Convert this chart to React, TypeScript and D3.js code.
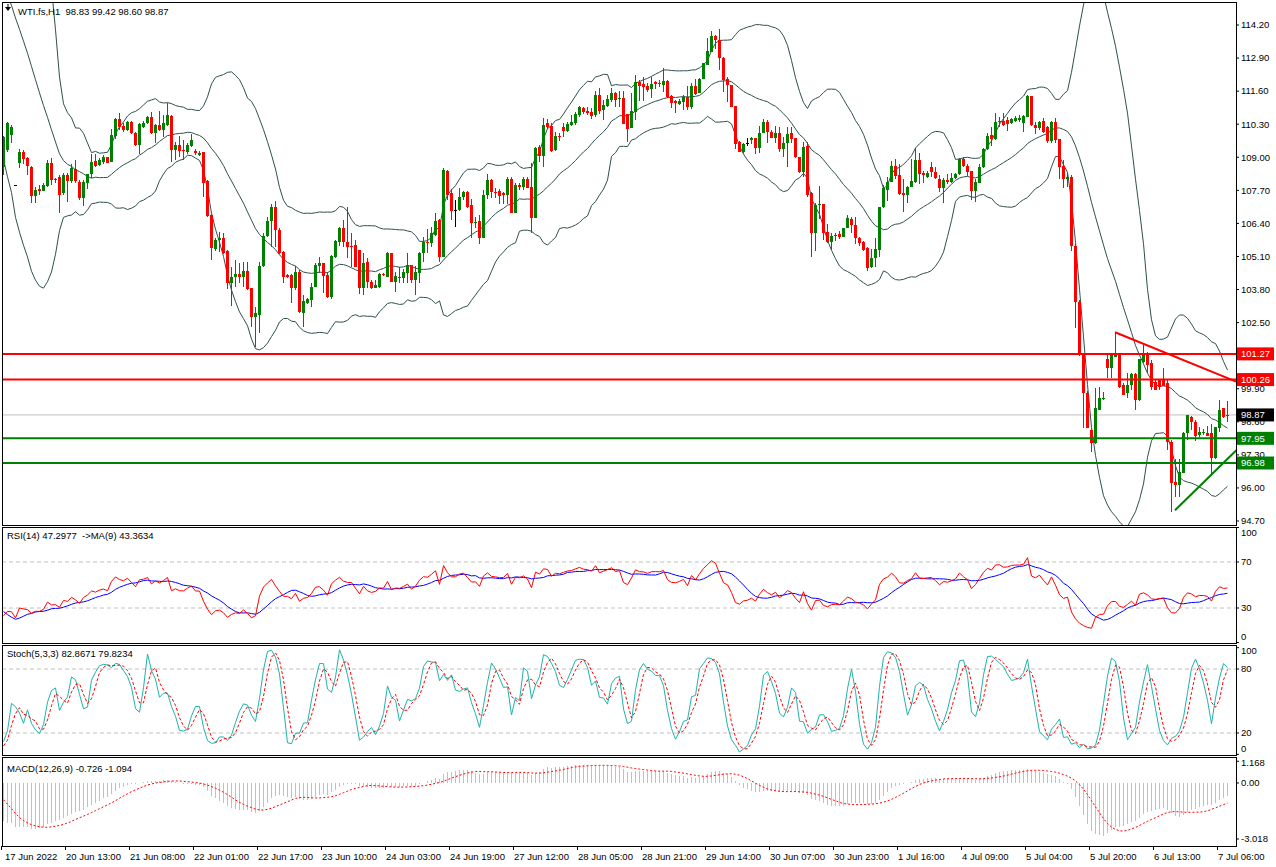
import React from "react";
import * as d3 from "d3";

type C = [number, number, number, number]; // open, high, low, close

// bars before the visible window (used only to warm up the indicators)
const PRE_CANDLES: C[] = [
  [117.5, 117.9, 117.3, 117.8], [117.8, 118.2, 117.6, 118.1], [118.1, 118.3, 117.7, 117.9],
  [117.9, 118.5, 117.8, 118.3], [118.3, 118.4, 117.8, 118.0], [118.0, 118.1, 117.5, 117.7],
  [117.7, 118.1, 117.6, 117.9], [117.9, 118.4, 117.8, 118.2], [118.2, 118.6, 118.1, 118.4],
  [118.4, 118.5, 117.9, 118.1], [118.1, 118.2, 117.6, 117.8], [117.8, 118.2, 117.7, 118.0],
  [118.0, 118.4, 117.9, 118.3], [118.3, 118.4, 117.9, 118.1], [118.1, 118.2, 117.7, 117.9],
  [117.9, 118.4, 117.8, 118.2], [118.2, 118.3, 117.8, 118.0], [118.0, 118.1, 117.6, 117.8],
  [117.8, 118.3, 117.7, 118.1], [118.1, 118.2, 117.7, 117.9], [117.9, 118.0, 117.4, 117.7],
  [117.7, 117.8, 116.5, 116.8], [116.8, 117.0, 113.4, 113.6], [113.6, 113.9, 110.8, 111.0],
  [111.0, 111.3, 109.9, 110.2], [110.2, 111.1, 110.0, 110.8], [110.8, 110.9, 108.6, 108.8],
];

// visible hourly bars, WTI.fs H1
const CANDLES: C[] = [
  [108.63,109.85,108.30,109.81],[109.28,110.40,109.20,110.33],[109.87,110.27,109.57,110.20],[107.91,107.91,107.91,107.91],
  [108.76,109.31,108.56,109.22],[109.22,109.28,108.73,108.92],[108.97,109.02,108.30,108.65],[108.63,108.65,107.21,107.47],
  [107.47,107.84,107.21,107.71],[107.74,107.91,107.51,107.68],[107.68,108.00,107.67,107.91],[107.87,108.89,107.82,108.76],
  [108.76,108.97,107.91,108.10],[108.14,108.20,108.00,108.12],[108.23,108.30,106.79,107.51],[107.58,108.37,107.51,108.30],
  [108.30,108.37,107.25,108.08],[108.08,108.73,107.97,108.56],[108.52,108.89,107.97,108.08],[108.04,108.10,107.32,107.38],
  [107.38,108.10,107.10,108.04],[108.00,108.34,107.74,108.34],[108.34,109.13,108.17,108.82],[108.86,109.13,108.60,108.65],
  [108.68,108.97,108.65,108.89],[108.82,109.09,108.73,109.00],[109.00,109.02,108.76,108.79],[108.82,110.13,108.82,109.87],
  [109.83,110.53,109.70,110.49],[110.49,110.75,110.07,110.20],[110.23,110.33,110.00,110.07],[110.07,110.42,110.03,110.38],
  [110.38,110.42,109.91,109.94],[109.96,110.00,109.44,109.48],[109.48,110.33,109.13,110.29],[110.20,110.42,110.16,110.36],
  [110.33,110.62,110.31,110.57],[110.57,110.79,109.91,109.94],[109.94,110.29,109.57,110.27],[110.27,110.83,110.04,110.07],
  [110.07,110.66,109.81,110.33],[110.27,111.14,110.24,110.66],[110.62,110.66,108.82,109.28],[109.28,109.61,108.89,109.48],
  [109.48,109.83,109.00,109.26],[109.28,109.68,108.89,109.24],[109.22,109.57,109.13,109.48],[109.44,109.91,109.39,109.68],
  [109.26,109.31,109.09,109.18],[109.09,109.26,109.05,109.18],[109.22,109.22,107.45,108.00],[108.08,108.10,106.66,106.69],
  [106.73,106.76,104.96,105.42],[105.39,105.81,105.33,105.75],[105.75,106.07,105.29,105.81],[105.81,106.01,105.20,105.22],
  [105.33,105.36,103.81,104.04],[104.04,104.70,103.15,104.28],[104.28,104.96,103.91,104.41],[104.41,104.83,104.07,104.28],
  [104.28,104.90,103.91,104.54],[104.54,104.90,103.78,103.81],[103.85,103.87,102.34,102.73],[102.73,103.12,101.55,102.89],
  [102.80,104.90,102.08,104.72],[104.72,106.01,104.70,105.90],[105.90,106.66,105.87,106.50],[106.50,107.16,105.48,107.06],
  [107.06,107.29,105.48,106.14],[106.14,106.20,105.20,105.22],[105.29,105.33,104.07,104.30],[104.36,104.40,104.25,104.30],
  [104.36,104.43,103.28,103.85],[103.85,104.72,103.78,104.50],[104.50,104.57,102.86,102.93],[102.89,103.59,102.34,103.33],
  [103.29,103.45,103.25,103.42],[103.39,104.05,103.10,103.91],[103.91,104.83,103.91,104.77],[104.73,105.09,104.44,104.83],
  [104.83,104.85,103.68,104.33],[104.37,104.50,103.48,103.50],[103.52,105.16,103.44,105.12],[105.07,105.75,105.05,105.72],
  [105.68,106.27,105.51,106.21],[106.21,106.54,105.49,105.68],[105.68,107.03,105.03,105.49],[105.51,106.01,104.67,105.49],
  [105.54,105.75,104.67,104.70],[105.35,105.35,103.63,103.85],[103.85,105.22,103.59,104.83],[104.88,105.05,103.85,104.11],
  [104.11,104.18,103.81,103.85],[103.85,104.18,103.85,103.98],[103.91,104.44,103.85,104.41],[104.41,104.45,104.33,104.37],
  [104.31,105.29,104.31,105.22],[105.22,105.22,104.10,104.11],[104.11,104.50,103.72,104.33],[104.31,104.70,104.05,104.28],
  [104.24,104.60,104.05,104.50],[104.44,105.22,104.05,104.77],[104.77,104.77,104.05,104.18],[104.18,104.73,103.59,104.50],
  [104.46,105.29,104.05,105.22],[105.22,105.88,104.90,105.68],[105.68,106.17,105.22,105.62],[105.62,106.27,105.49,106.01],
  [105.95,106.80,105.91,106.50],[106.54,106.56,104.90,105.09],[105.09,108.57,105.09,108.50],[108.46,108.50,107.32,107.52],
  [107.58,107.74,106.54,106.89],[106.93,107.32,106.27,106.93],[106.93,107.78,106.89,107.45],[107.43,107.69,107.32,107.62],
  [107.65,107.69,106.99,107.06],[107.12,107.35,105.81,106.43],[106.43,106.64,106.21,106.47],[106.50,106.73,105.59,105.84],
  [105.81,107.71,105.81,107.52],[107.52,108.33,107.35,108.11],[108.11,108.14,107.39,107.65],[107.65,107.78,107.39,107.58],
  [107.67,107.74,107.16,107.49],[107.61,107.65,107.16,107.52],[107.52,108.24,107.16,108.14],[108.14,108.24,106.80,106.82],
  [106.82,107.98,106.82,107.91],[107.91,107.98,107.71,107.85],[107.85,108.24,107.71,108.14],[108.14,108.24,107.78,107.78],
  [107.82,108.76,106.01,106.63],[106.63,109.42,106.63,109.35],[109.39,109.48,108.83,109.06],[109.06,110.53,108.63,110.27],
  [110.34,110.51,110.10,110.18],[110.23,110.34,109.22,109.25],[109.29,110.01,109.25,109.84],[109.84,109.97,109.65,109.78],
  [110.20,110.34,109.78,110.05],[110.05,110.40,110.01,110.31],[110.27,110.66,110.23,110.40],[110.34,110.79,110.27,110.70],
  [110.66,111.02,110.60,110.96],[110.92,110.99,110.70,110.79],[110.81,110.96,110.66,110.75],[110.79,110.92,110.49,110.62],
  [110.66,111.61,110.60,111.45],[111.45,111.71,110.70,110.83],[110.86,111.25,110.47,111.06],[111.02,111.45,110.96,111.28],
  [111.25,111.71,111.19,111.54],[111.54,111.58,110.96,111.25],[111.33,111.61,110.99,111.34],[111.32,111.61,110.31,110.31],
  [110.70,110.70,109.61,110.10],[110.14,111.54,110.14,110.83],[110.79,112.24,110.47,111.97],[111.97,112.04,111.23,111.80],
  [111.87,112.14,111.23,111.78],[111.80,111.91,111.58,111.65],[111.67,112.17,111.32,111.87],[111.97,112.01,111.67,111.88],
  [111.93,112.04,111.78,111.87],[111.84,112.50,111.58,112.00],[112.00,112.04,111.32,111.36],[111.41,111.45,110.92,111.15],
  [111.23,111.25,110.75,111.12],[111.10,111.28,111.06,111.23],[111.19,111.45,110.86,111.38],[111.38,111.80,110.86,110.96],
  [110.99,111.91,110.91,111.80],[111.80,112.07,111.45,111.49],[111.54,112.10,111.54,112.07],[112.07,112.72,112.07,112.69],
  [112.63,113.68,112.63,113.18],[113.15,113.97,113.15,113.77],[113.77,113.81,113.24,113.61],[113.61,114.03,112.43,112.89],
  [112.89,112.93,111.58,112.04],[112.07,112.14,111.19,111.84],[111.84,111.84,110.96,110.99],[111.02,111.02,109.31,109.52],
  [109.61,109.65,109.22,109.22],[109.22,109.55,109.16,109.52],[109.58,109.75,109.44,109.58],[109.68,109.78,109.52,109.75],
  [109.75,109.75,109.12,109.35],[109.38,110.23,109.16,109.94],[109.94,110.49,109.94,110.40],[110.40,110.47,109.58,110.01],
  [110.01,110.07,109.75,109.75],[109.75,110.23,109.55,109.97],[109.97,110.20,109.22,109.31],[109.31,109.81,109.03,109.55],
  [109.55,110.18,108.63,109.92],[109.94,110.18,109.58,109.71],[109.75,109.75,108.96,109.03],[109.00,109.03,108.37,108.44],
  [108.44,109.61,108.24,109.39],[109.44,109.61,107.45,107.52],[107.58,107.65,105.09,106.04],[106.04,107.22,105.33,107.12],
  [107.12,107.87,106.56,107.16],[107.16,107.16,105.75,106.04],[106.08,106.38,105.64,105.68],[105.68,106.01,105.36,105.91],
  [105.91,106.01,105.72,105.95],[105.98,106.12,105.77,105.85],[105.88,106.21,105.85,106.21],[106.21,106.73,106.21,106.60],
  [106.59,106.67,106.01,106.34],[106.34,106.67,105.59,105.81],[105.81,105.88,105.51,105.62],[105.68,105.71,105.33,105.36],
  [105.42,105.49,104.54,104.63],[104.67,105.38,104.63,105.03],[105.03,105.81,104.67,105.38],[105.36,107.06,105.07,107.03],
  [107.03,107.91,106.99,107.78],[107.71,108.24,107.30,108.04],[108.04,108.87,108.04,108.66],[108.66,108.92,108.14,108.27],
  [108.31,108.74,107.52,107.56],[107.58,108.14,106.86,107.52],[107.52,107.87,107.22,107.85],[107.85,108.92,107.82,108.08],
  [108.04,109.35,108.00,108.90],[108.90,109.18,107.95,108.35],[108.40,108.47,108.00,108.31],[108.24,108.47,108.17,108.40],
  [108.63,108.83,108.21,108.44],[108.44,108.61,108.14,108.17],[108.14,108.31,107.65,107.78],[107.78,108.17,107.22,108.11],
  [108.11,108.35,107.95,108.04],[108.04,108.40,108.00,108.17],[108.17,108.37,108.14,108.35],[108.35,108.96,108.31,108.92],
  [108.92,109.03,108.61,108.66],[108.66,108.74,108.27,108.44],[108.47,108.47,107.32,107.69],[107.69,108.14,107.26,108.04],
  [108.00,108.74,107.98,108.63],[108.61,109.35,108.57,109.31],[109.31,109.94,109.29,109.84],[109.88,110.18,109.44,109.71],
  [109.71,110.75,109.68,110.40],[110.40,110.57,110.18,110.44],[110.44,110.75,110.23,110.27],[110.47,110.60,110.05,110.31],
  [110.36,110.53,110.31,110.49],[110.44,110.62,110.40,110.53],[110.47,110.66,110.40,110.53],[110.36,110.66,110.01,110.62],
  [110.60,111.45,110.57,111.41],[111.41,111.41,110.23,110.27],[110.27,110.40,109.92,110.14],[110.14,110.44,110.07,110.40],
  [110.44,110.56,109.94,110.01],[110.18,110.23,109.55,109.65],[109.65,110.43,109.58,110.40],[110.40,110.56,109.58,109.68],
  [109.71,109.71,108.14,108.63],[108.66,108.90,107.78,108.14],[108.14,108.40,107.82,108.24],[108.24,108.30,105.30,105.50],
  [105.50,105.60,102.28,103.30],[103.30,103.40,101.20,101.23],[101.23,101.30,98.35,99.72],[99.72,99.80,98.35,98.35],
  [98.28,98.30,97.43,97.76],[97.76,99.92,97.73,99.13],[99.07,99.96,99.07,99.52],[99.49,99.79,99.46,99.55],
  [101.06,101.23,100.31,100.70],[100.70,101.32,100.31,101.29],[101.14,102.11,101.14,101.32],[101.29,101.29,99.92,99.98],
  [100.05,100.12,99.66,99.66],[99.72,100.51,99.52,100.05],[100.05,100.53,99.85,100.48],[100.48,100.53,99.07,99.46],
  [99.46,101.06,99.42,101.06],[100.97,101.62,100.90,101.27],[101.27,101.36,100.51,100.84],[100.93,101.03,99.85,99.98],
  [100.18,100.25,99.85,99.85],[100.25,100.25,99.85,99.96],[100.25,100.70,100.01,100.01],[100.12,100.25,97.49,97.82],
  [97.82,97.89,95.07,96.18],[96.25,97.13,95.66,96.12],[96.12,97.13,95.66,96.64],[96.58,98.21,96.58,98.15],
  [98.15,98.87,97.89,98.87],[98.78,98.83,98.28,98.61],[98.61,98.67,97.86,98.04],[98.08,98.41,98.02,98.21],
  [98.15,98.31,98.08,98.21],[98.17,98.44,98.04,98.04],[98.17,98.52,96.51,97.17],[97.17,98.39,97.13,98.39],
  [98.35,99.46,98.21,99.07],[99.13,99.13,98.74,98.80],[98.83,99.42,98.60,98.87],
];

const PRICE_TICKS = [114.2, 112.9, 111.6, 110.3, 109.0, 107.7, 106.4, 105.1, 103.8, 102.5, 101.2, 99.9, 98.6, 97.3, 96.0, 94.7];
const TIME_LABELS = [
  "17 Jun 2022", "20 Jun 13:00", "21 Jun 08:00", "22 Jun 01:00", "22 Jun 17:00", "23 Jun 10:00", "24 Jun 03:00",
  "24 Jun 19:00", "27 Jun 12:00", "28 Jun 05:00", "28 Jun 21:00", "29 Jun 14:00", "30 Jun 07:00", "30 Jun 23:00",
  "1 Jul 16:00", "4 Jul 09:00", "5 Jul 04:00", "5 Jul 20:00", "6 Jul 13:00", "7 Jul 06:00",
];
const RESISTANCE_LEVELS = [101.27, 100.26];
const SUPPORT_LEVELS = [97.95, 96.98];
const LAST_PRICE = 98.87;
// trendlines: [bar index, price] endpoints
const RESIST_TREND: [number, number][] = [[278, 102.12], [308.3, 100.18]];
const SUPPORT_TREND: [number, number][] = [[293, 95.12], [308.4, 97.49]];
const RSI_LEVELS = [70, 30];
const RSI_LABELS = [100, 70, 30, 0];
const STOCH_LEVELS = [80, 20];
const STOCH_LABELS = [100, 80, 20, 0];
const MACD_LABELS = [1.168, 0.0, -3.018];

const FONT = "'Liberation Sans', Arial, sans-serif";

function computeAll() {
  const all = [...PRE_CANDLES, ...CANDLES];
  const off = PRE_CANDLES.length;
  const close = all.map((c) => c[3]);
  const high = all.map((c) => c[1]);
  const low = all.map((c) => c[2]);
  const n = all.length;
  // Bollinger 20,2
  const bb: { m: number; u: number; l: number }[] = [];
  for (let i = 0; i < n; i++) {
    if (i < 19) { bb.push({ m: NaN, u: NaN, l: NaN }); continue; }
    const w = close.slice(i - 19, i + 1);
    const m = d3.mean(w)!;
    const sd = Math.sqrt(d3.mean(w.map((v) => (v - m) * (v - m)))!);
    bb.push({ m, u: m + 2 * sd, l: m - 2 * sd });
  }
  // RSI 14 (Wilder)
  const rsi: number[] = new Array(n).fill(NaN);
  let ag = 0, al = 0;
  for (let i = 1; i < n; i++) {
    const ch = close[i] - close[i - 1];
    const g = Math.max(ch, 0), l = Math.max(-ch, 0);
    if (i <= 14) {
      ag += g / 14; al += l / 14;
      if (i === 14) rsi[i] = al === 0 ? 100 : 100 - 100 / (1 + ag / al);
    } else {
      ag = (ag * 13 + g) / 14; al = (al * 13 + l) / 14;
      rsi[i] = al === 0 ? 100 : 100 - 100 / (1 + ag / al);
    }
  }
  const rsiMa: number[] = rsi.map((_, i) => {
    if (i < 22) return NaN;
    return d3.mean(rsi.slice(i - 8, i + 1))!;
  });
  // Stochastic 5,3,3
  const ll: number[] = [], hh: number[] = [];
  for (let i = 0; i < n; i++) {
    const s = Math.max(0, i - 4);
    ll.push(d3.min(low.slice(s, i + 1))!);
    hh.push(d3.max(high.slice(s, i + 1))!);
  }
  const k: number[] = [];
  for (let i = 0; i < n; i++) {
    if (i < 6) { k.push(NaN); continue; }
    let num = 0, den = 0;
    for (let j = i - 2; j <= i; j++) { num += close[j] - ll[j]; den += hh[j] - ll[j]; }
    k.push(den === 0 ? 100 : (100 * num) / den);
  }
  const dline = k.map((_, i) => (i < 8 ? NaN : d3.mean(k.slice(i - 2, i + 1))!));
  // MACD 12,26,9 (signal = SMA)
  const e12: number[] = [], e26: number[] = [];
  for (let i = 0; i < n; i++) {
    e12.push(i === 0 ? close[0] : e12[i - 1] + (2 / 13) * (close[i] - e12[i - 1]));
    e26.push(i === 0 ? close[0] : e26[i - 1] + (2 / 27) * (close[i] - e26[i - 1]));
  }
  const macd = e12.map((v, i) => v - e26[i]);
  const sig = macd.map((_, i) => (i < 8 ? NaN : d3.mean(macd.slice(i - 8, i + 1))!));
  const vis = (arr: any[]) => arr.slice(off);
  return { bb: vis(bb), rsi: vis(rsi), rsiMa: vis(rsiMa), k: vis(k), d: vis(dline), macd: vis(macd), sig: vis(sig) };
}

const W = 1276, H = 867;
const LEFT = 2, RIGHT = 1236;
const MAIN = { top: 2, bottom: 525 };
const RSIP = { top: 527, bottom: 643 };
const STP = { top: 645, bottom: 755 };
const MCP = { top: 757, bottom: 846 };

export default function App() {
  const ind = computeAll();
  const last = CANDLES.length - 1;
  const x = d3.scaleLinear().domain([0, last]).range([3, 3 + 4 * last]);
  const y = d3.scaleLinear().domain([94.7, 114.2]).range([521, 25]);
  const yR = d3.scaleLinear().domain([0, 100]).range([642.5, 527.5]);
  const yS = d3.scaleLinear().domain([0, 100]).range([754.3, 647.7]);
  const yM = d3.scaleLinear().domain([-3.018, 1.168]).range([839, 761.3]);
  const idx = d3.range(CANDLES.length);

  const mk = (arr: number[], ys: (v: number) => number) =>
    d3.line<number>().defined((i) => Number.isFinite(arr[i])).x((i) => x(i) + 0.5).y((i) => ys(arr[i]))(idx) || "";

  const bbU = mk(ind.bb.map((b: any) => b.u), y);
  const bbM = mk(ind.bb.map((b: any) => b.m), y);
  const bbL = mk(ind.bb.map((b: any) => b.l), y);

  const clampLbl = (v: number, p: { top: number; bottom: number }) => Math.min(Math.max(v, p.top + 6), p.bottom - 6);

  const bull = "#008000", bear = "#ff0000";
  const txt = { fontFamily: FONT, fontSize: 9.5, fill: "#000", whiteSpace: "pre" } as const;

  const priceBox = (v: number, bg: string, key: string) => (
    <g key={key}>
      <rect x={1237} y={y(v) - 6.5} width={37} height={13} fill={bg} />
      <text x={1241} y={y(v)} dy="0.35em" style={{ ...txt, fill: "#fff" }}>{v.toFixed(2)}</text>
    </g>
  );

  return (
    <svg width={W} height={H} style={{ position: "absolute", left: 0, top: 0, background: "#fff" }}>
      <defs>
        <clipPath id="cMain"><rect x={LEFT + 1} y={MAIN.top + 1} width={RIGHT - LEFT - 1} height={MAIN.bottom - MAIN.top - 1} /></clipPath>
        <clipPath id="cR"><rect x={LEFT + 1} y={RSIP.top + 1} width={RIGHT - LEFT - 1} height={RSIP.bottom - RSIP.top - 1} /></clipPath>
        <clipPath id="cS"><rect x={LEFT + 1} y={STP.top + 1} width={RIGHT - LEFT - 1} height={STP.bottom - STP.top - 1} /></clipPath>
        <clipPath id="cM"><rect x={LEFT + 1} y={MCP.top + 1} width={RIGHT - LEFT - 1} height={MCP.bottom - MCP.top - 1} /></clipPath>
      </defs>
      <rect x={0} y={0} width={W} height={H} fill="#fff" />

      {/* ===== main panel ===== */}
      <g clipPath="url(#cMain)">
        <line x1={LEFT} x2={RIGHT} y1={y(LAST_PRICE)} y2={y(LAST_PRICE)} stroke="#c0c0c0" strokeWidth={1} />
        <path d={bbU} fill="none" stroke="#2f4f4f" strokeWidth={1} />
        <path d={bbM} fill="none" stroke="#2f4f4f" strokeWidth={1} />
        <path d={bbL} fill="none" stroke="#2f4f4f" strokeWidth={1} />
        <g shapeRendering="crispEdges">
          {CANDLES.map(([o, h, l, c], i) => {
            const col = c > o ? bull : c < o ? bear : "#000";
            const top = y(Math.max(o, c));
            const bh = Math.max(1, Math.abs(y(o) - y(c)));
            return (
              <g key={i}>
                <rect x={x(i)} y={y(h)} width={1} height={Math.max(1, y(l) - y(h))} fill={col} />
                <rect x={x(i) - 1} y={top} width={3} height={bh} fill={col} />
              </g>
            );
          })}
        </g>
        {RESISTANCE_LEVELS.map((v) => (
          <line key={"r" + v} x1={LEFT} x2={RIGHT} y1={y(v)} y2={y(v)} stroke="#ff0000" strokeWidth={2} />
        ))}
        {SUPPORT_LEVELS.map((v) => (
          <line key={"s" + v} x1={LEFT} x2={RIGHT} y1={y(v)} y2={y(v)} stroke="#008000" strokeWidth={2} />
        ))}
        <line x1={x(RESIST_TREND[0][0])} y1={y(RESIST_TREND[0][1])} x2={x(RESIST_TREND[1][0])} y2={y(RESIST_TREND[1][1])} stroke="#ff0000" strokeWidth={2} />
        <line x1={x(SUPPORT_TREND[0][0])} y1={y(SUPPORT_TREND[0][1])} x2={x(SUPPORT_TREND[1][0])} y2={y(SUPPORT_TREND[1][1])} stroke="#008000" strokeWidth={2} />
      </g>
      <path d="M5,7 L11,7 L8,11 Z" fill="#000" />
      <line x1={8} y1={4} x2={8} y2={8} stroke="#000" />
      <text x={18} y={15} style={txt} xmlSpace="preserve">{"WTI.fs,H1  98.83 99.42 98.60 98.87"}</text>

      {/* price axis */}
      {PRICE_TICKS.map((v) => (
        <g key={v}>
          <line x1={RIGHT} x2={RIGHT + 3} y1={y(v)} y2={y(v)} stroke="#000" />
          <text x={1241} y={y(v)} dy="0.35em" style={txt}>{v.toFixed(2)}</text>
        </g>
      ))}
      {RESISTANCE_LEVELS.map((v) => priceBox(v, "#ff0000", "br" + v))}
      {priceBox(LAST_PRICE, "#000000", "last")}
      {SUPPORT_LEVELS.map((v) => priceBox(v, "#008000", "bs" + v))}

      {/* ===== RSI ===== */}
      <g clipPath="url(#cR)">
        {RSI_LEVELS.map((v) => (
          <line key={v} x1={LEFT} x2={RIGHT} y1={yR(v)} y2={yR(v)} stroke="#c0c0c0" strokeDasharray="4,3" />
        ))}
        <path d={mk(ind.rsiMa, yR)} fill="none" stroke="#0000ff" strokeWidth={1} />
        <path d={mk(ind.rsi, yR)} fill="none" stroke="#ff0000" strokeWidth={1} />
      </g>
      <text x={7} y={539} style={txt} xmlSpace="preserve">{"RSI(14) 47.2977  ->MA(9) 43.3634"}</text>
      {RSI_LABELS.map((v) => (
        <g key={v}>
          <line x1={RIGHT} x2={RIGHT + 3} y1={yR(v)} y2={yR(v)} stroke="#000" />
          <text x={1241} y={clampLbl(yR(v), RSIP)} dy="0.35em" style={txt}>{v}</text>
        </g>
      ))}

      {/* ===== Stochastic ===== */}
      <g clipPath="url(#cS)">
        {STOCH_LEVELS.map((v) => (
          <line key={v} x1={LEFT} x2={RIGHT} y1={yS(v)} y2={yS(v)} stroke="#c0c0c0" strokeDasharray="4,3" />
        ))}
        <path d={mk(ind.k, yS)} fill="none" stroke="#20b2aa" strokeWidth={1} />
        <path d={mk(ind.d, yS)} fill="none" stroke="#ff0000" strokeWidth={1} strokeDasharray="3,2" />
      </g>
      <text x={7} y={657} style={txt}>Stoch(5,3,3) 82.8671 79.8234</text>
      {STOCH_LABELS.map((v) => (
        <g key={v}>
          <line x1={RIGHT} x2={RIGHT + 3} y1={yS(v)} y2={yS(v)} stroke="#000" />
          <text x={1241} y={clampLbl(yS(v), STP)} dy="0.35em" style={txt}>{v}</text>
        </g>
      ))}

      {/* ===== MACD ===== */}
      <g clipPath="url(#cM)">
        <g shapeRendering="crispEdges">
          {idx.map((i) => (
            <line key={i} x1={x(i) + 0.5} x2={x(i) + 0.5} y1={yM(0)} y2={yM(ind.macd[i])} stroke="#c0c0c0" strokeWidth={1} />
          ))}
        </g>
        <path d={mk(ind.sig, yM)} fill="none" stroke="#ff0000" strokeWidth={1} strokeDasharray="2,2" />
      </g>
      <text x={7} y={772} style={txt}>MACD(12,26,9) -0.726 -1.094</text>
      {MACD_LABELS.map((v) => (
        <g key={v}>
          <line x1={RIGHT} x2={RIGHT + 3} y1={yM(v)} y2={yM(v)} stroke="#000" />
          <text x={1241} y={clampLbl(yM(v), MCP)} dy="0.35em" style={txt}>{v === 0 ? "0.00" : v.toFixed(3)}</text>
        </g>
      ))}

      {/* panel frames */}
      <g fill="none" stroke="#000" strokeWidth={1} shapeRendering="crispEdges">
        {[MAIN, RSIP, STP, MCP].map((p, j) => (
          <rect key={j} x={LEFT + 0.5} y={p.top + 0.5} width={RIGHT - LEFT} height={p.bottom - p.top} />
        ))}
      </g>

      {/* time axis */}
      {TIME_LABELS.map((t, j) => (
        <g key={t}>
          <line x1={x(16 * j) - 1.5} x2={x(16 * j) - 1.5} y1={MCP.bottom} y2={MCP.bottom + 4} stroke="#000" />
          <text x={Math.max(5, x(16 * j) - 1)} y={860} style={txt}>{t}</text>
        </g>
      ))}
    </svg>
  );
}
